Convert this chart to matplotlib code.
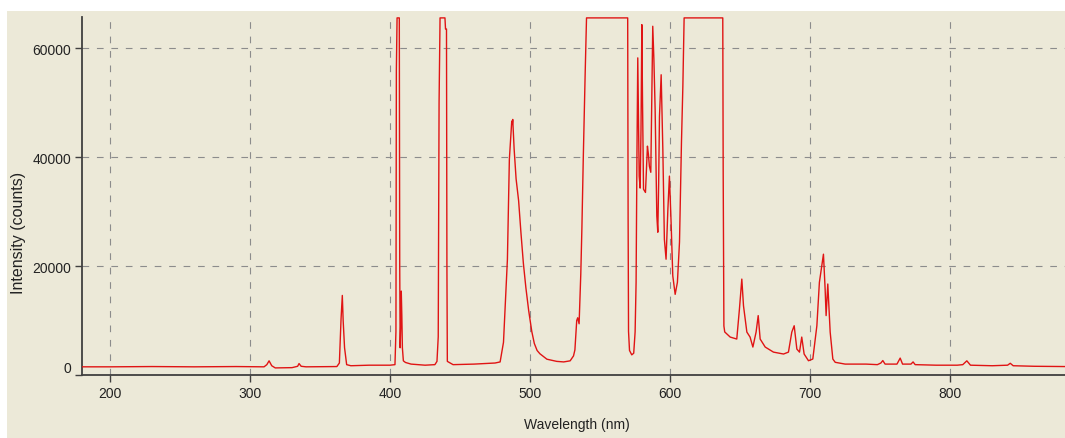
import matplotlib
matplotlib.use('Agg')
import matplotlib.pyplot as plt
from matplotlib.patches import Rectangle

plt.rcParams['font.family'] = ['Liberation Sans', 'DejaVu Sans']

# spectrum: wavelength (nm), intensity (counts)
wavelength = [180, 200, 230, 260, 290, 310, 312, 313.6, 315.5, 318, 330, 334, 335, 336.5,
              340, 362, 363.8, 365, 365.9, 366.5, 367.5, 369, 372, 385, 400, 403.5,
              404.2, 404.5, 405.0, 406.6, 406.9, 407.2, 407.6, 408.0, 408.4, 408.8, 409.5,
              411, 415, 425, 432, 433.5, 434.4, 435.0, 435.7, 439.2, 439.6, 440.3, 440.6,
              440.9, 445, 460, 475, 478.6, 481, 483.8, 485.2, 486.9, 487.3, 487.6, 488.6,
              490, 491.8, 493.5, 495.2, 497, 499, 501.2, 503, 505, 507, 512, 519, 524,
              528.6, 531, 532, 533.3, 534, 535, 536.2, 537, 538, 539.3, 540.3, 569.7,
              570, 570.3, 571, 572.6, 574, 575, 575.7, 576.3, 576.9, 577.5, 577.9, 578.6,
              579.2, 579.8, 580.3, 581, 582.4, 583.1, 583.8, 584.5, 585.2, 586.2, 586.9,
              587.6, 588.4, 589.3, 590.5, 591.2, 591.8, 592.4, 593.6, 594.8, 595.9, 597.1,
              598.4, 599.5, 600.7, 601.9, 603.6, 605.2, 606.7, 608.1, 609.1, 610, 637.6,
              637.9, 638.4, 639, 642.9, 647.6, 649.5, 651.2, 652.4, 654.8, 657.1, 659.1,
              661.4, 662.9, 664.3, 667.9, 673.8, 681, 684.5, 686.9, 688.6, 690.5, 692.4,
              694, 695.7, 698.8, 701.9, 704.8, 706.6, 708.3, 709.5, 710.7, 711.4, 712.6,
              714.3, 716.2, 717.9, 725, 740, 748, 750.5, 751.9, 753.5, 762, 764.3, 766,
              772, 773.5, 775, 790, 805, 809, 811.9, 814.5, 830, 841, 842.9, 845, 860, 882]
intensity = [1500, 1500, 1550, 1500, 1550, 1500, 1900, 2600, 1700, 1300, 1350, 1600, 2100, 1600,
             1500, 1550, 2200, 10300, 14600, 10000, 5000, 1900, 1700, 1800, 1800, 1900,
             8000, 56000, 65535, 65535, 20000, 5000, 9000, 15400, 11000, 5000, 2600,
             2300, 2000, 1800, 1900, 2500, 7000, 50000, 65535, 65535, 63500, 63500, 20000,
             2500, 1900, 2000, 2200, 2400, 6000, 21200, 39600, 46600, 46000, 46900, 41500,
             36000, 32000, 26000, 20500, 16000, 11800, 8000, 5800, 4500, 3900, 2900, 2500, 2400,
             2600, 3500, 4600, 10000, 10500, 9400, 18500, 27000, 40000, 55000, 65535, 65535,
             28800, 8000, 4500, 3700, 4000, 7900, 17000, 40000, 58200, 45000, 36500, 34300,
             45000, 64300, 50000, 34100, 33500, 38000, 42000, 40500, 38300, 37200, 50000,
             64000, 58000, 48700, 29200, 26200, 35000, 47500, 55100, 41400, 24900, 21250,
             30400, 36500, 28000, 18200, 14800, 17000, 24400, 42700, 53000, 65535, 65535,
             37000, 9000, 7900, 6960, 6600, 12100, 17600, 12700, 7880, 6960, 5130,
             7880, 10900, 6600, 5130, 4200, 3850, 4200, 7880, 9040, 4760, 4200,
             6960, 3850, 2620, 2930, 9040, 17000, 20000, 22170, 15750, 10900, 16700,
             7880, 2930, 2330, 2000, 2000, 1900, 2200, 2650, 2000, 2000, 3100, 2000,
             2000, 2400, 1900, 1800, 1800, 1900, 2600, 1800, 1700, 1800, 2150, 1700, 1600, 1550]

x_ticks = [200, 300, 400, 500, 600, 700, 800]
y_ticks = [0, 20000, 40000, 60000]

W, H = 1065, 439
bg = '#ECE9D8'
fig = plt.figure(figsize=(W / 100, H / 100), dpi=100, facecolor='white')
fig.patches.append(Rectangle((7 / W, 0), 1, (H - 12) / H, transform=fig.transFigure,
                             facecolor=bg, edgecolor='none', zorder=-10))

ax = fig.add_axes([82 / W, 63 / H, (W - 82) / W, (376 - 18) / H])
ax.set_facecolor(bg)

ax.plot(wavelength, intensity, color='#e01414', linewidth=1.0, zorder=3)

ax.set_xlim(180, 882)
ax.set_ylim(0, 65700)
ax.set_xticks(x_ticks)
ax.set_yticks(y_ticks)
ax.set_xticklabels([str(v) for v in x_ticks])
ax.set_yticklabels([str(v) for v in y_ticks])

ax.grid(True, color='#8c8c8c', linestyle=(0, (6, 7)), linewidth=0.8, zorder=1)

ax.spines['top'].set_visible(False)
ax.spines['right'].set_visible(False)
ax.spines['left'].set_color('#404040')
ax.spines['bottom'].set_color('#404040')
ax.spines['left'].set_linewidth(1.3)
ax.spines['bottom'].set_linewidth(1.3)

ax.tick_params(axis='both', direction='out', length=5, width=1, color='#404040',
               labelsize=10, labelcolor='#222222', pad=3)

# the zero label sits a little above the axis line in the original
ax.get_yticklabels()[0].set_va('bottom')

ax.set_xlabel('Wavelength (nm)', fontsize=10, color='#222222')
ax.set_ylabel('Intensity (counts)', fontsize=11.5, color='#222222')
ax.xaxis.label.set_va('center')
ax.yaxis.label.set_va('center')
ax.xaxis.set_label_coords((577 - 82) / (W - 82), (376 - 425) / 358)
ax.yaxis.set_label_coords((19 - 82) / (W - 82), (376 - 233) / 358)

fig.savefig('out.png', dpi=100, facecolor=fig.get_facecolor())
